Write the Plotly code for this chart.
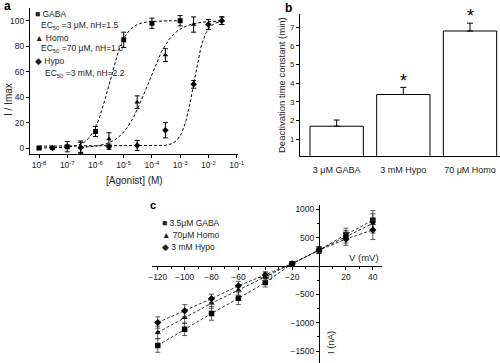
import numpy as np
import plotly.graph_objects as go

# ---------------- Panel a data ----------------
gaba_conc = [1e-8, 1e-7, 1e-6, 1e-5, 1e-4, 1e-3]
gaba_resp = [0, 1, 13, 85, 98, 100]
gaba_err = [1, 4, 4, 6, 4, 4]

homo_conc = [3e-7, 3e-6, 3e-5, 3e-4, 3e-3, 3e-2]
homo_resp = [0.5, 7, 36, 73, 97, 100]
homo_err = [5, 5, 5, 5, 6, 3]

hypo_conc = [3e-8, 3e-7, 3e-6, 3e-5, 3e-4, 3e-3, 1e-2, 3e-2]
hypo_resp = [0, 0.5, 1, 2, 14, 50, 97, 100]
hypo_err = [1, 4, 2, 4, 6, 3, 4, 3]

# fitted Hill parameters (from legend)
ec50 = {"GABA": 3e-6, "Homo": 7e-5, "Hypo": 3e-3}
nh = {"GABA": 1.5, "Homo": 1.0, "Hypo": 2.2}
bottom = {"GABA": 0, "Homo": 0, "Hypo": 1.5}
curve_span = {"GABA": (-8, -3), "Homo": (-6.52, -1.52), "Hypo": (-8, -1.52)}

x_tick_exps = [-8, -7, -6, -5, -4, -3, -2, -1]
y_ticks_a = [0, 20, 40, 60, 80, 100]

# ---------------- Panel b data ----------------
b_cats = ["3 μM GABA", "3 mM Hypo", "70 μM Homo"]
b_vals = [1.7, 3.4, 6.8]
b_err = [0.33, 0.38, 0.42]
b_sig = [False, True, True]

# ---------------- Panel c data ----------------
volt = [-120, -100, -80, -60, -40, -20, 0, 20, 40]
i_gaba = [-1400, -1115, -835, -570, -290, 40, 280, 555, 805]
i_homo = [-1170, -910, -655, -425, -190, 40, 280, 515, 750]
i_hypo = [-995, -790, -575, -350, -160, 40, 280, 475, 635]
e_gaba = [120, 110, 120, 110, 80, 30, 60, 110, 170]
e_homo = [110, 100, 90, 90, 70, 30, 60, 110, 170]
e_hypo = [100, 110, 80, 80, 60, 30, 60, 110, 170]
c_x_ticks = [-120, -100, -80, -60, -40, -20, 20, 40]
c_y_ticks = [-1500, -1000, -500, 500, 1000]

W, H = 500, 363
def px(x):
    return x / W
def py(y):
    return 1 - y / H

FONT = "Liberation Sans, Arial, sans-serif"
TXT = "#222"

fig = go.Figure()

# ---- Panel a ----
def hill(name, xs):
    b = bottom[name]
    return b + (100 - b) / (1 + (ec50[name] / xs) ** nh[name])

for name, conc, resp, err, sym in [
    ("GABA", gaba_conc, gaba_resp, gaba_err, "square"),
    ("Homo", homo_conc, homo_resp, homo_err, "triangle-up"),
    ("Hypo", hypo_conc, hypo_resp, hypo_err, "diamond"),
]:
    lo, hi = curve_span[name]
    xs = np.logspace(lo, hi, 200)
    fig.add_trace(go.Scatter(x=xs, y=hill(name, xs), mode="lines",
                             line=dict(color="black", width=1, dash="3px,2px"),
                             xaxis="x", yaxis="y", showlegend=False, hoverinfo="skip"))
    fig.add_trace(go.Scatter(x=conc, y=resp, mode="markers",
                             marker=dict(symbol=sym, size=5, color="black"),
                             error_y=dict(type="data", array=err, color="black",
                                          thickness=1, width=2.5),
                             xaxis="x", yaxis="y", showlegend=False))

# ---- Panel b ----
fig.add_trace(go.Bar(x=b_cats, y=b_vals, width=0.8,
                     marker=dict(color="white", line=dict(color="black", width=1)),
                     error_y=dict(type="data", symmetric=False, array=b_err,
                                  arrayminus=[0] * len(b_err), color="black",
                                  thickness=1, width=3),
                     xaxis="x2", yaxis="y2", showlegend=False))

# ---- Panel c ----
for vals, errs, sym in [(i_gaba, e_gaba, "square"),
                        (i_homo, e_homo, "triangle-up"),
                        (i_hypo, e_hypo, "diamond")]:
    fig.add_trace(go.Scatter(x=volt, y=vals, mode="lines+markers",
                             line=dict(color="black", width=0.8, dash="3px,2px"),
                             marker=dict(symbol=sym, size=5.5, color="black"),
                             error_y=dict(type="data", array=errs, color="#333",
                                          thickness=0.8, width=2.5),
                             xaxis="x3", yaxis="y3", showlegend=False))

tickfont = dict(family=FONT, size=8.5, color=TXT)
common = dict(showline=True, linecolor="black", linewidth=1, tickcolor="black",
              showgrid=False, zeroline=False, automargin=False)

fig.update_layout(
    template="none",
    width=W, height=H,
    margin=dict(l=0, r=0, t=0, b=0),
    paper_bgcolor="white", plot_bgcolor="white",
    font=dict(family=FONT, color=TXT),
    xaxis=dict(type="log", domain=[px(30), px(238)], range=[-8.32, -0.95],
               tickvals=[10.0 ** e for e in x_tick_exps],
               ticktext=["10<sup>%d</sup>" % e for e in x_tick_exps],
               ticks="outside", ticklen=3, tickfont=tickfont, anchor="y", **common),
    yaxis=dict(domain=[py(154), py(8)], range=[-4.7, 110],
               tickvals=y_ticks_a, ticks="outside", ticklen=3,
               tickfont=tickfont, anchor="x", **common),
    xaxis2=dict(domain=[px(300), 1.0], range=[-0.55, 2.45], type="category",
                ticks="", tickfont=dict(family=FONT, size=9, color=TXT),
                ticklabelstandoff=5, anchor="y2", **common),
    yaxis2=dict(domain=[py(155.7), py(14.2)], range=[0.12, 7.7],
                tickvals=[1, 2, 3, 4, 5, 6, 7], ticks="outside", ticklen=3,
                tickfont=dict(family=FONT, size=8, color=TXT), anchor="x2", **common),
    xaxis3=dict(domain=[px(151.7), px(381.7)], range=[-124.5, 46.6],
                anchor="free", position=py(266),
                tickvals=c_x_ticks, ticks="outside", ticklen=3, tickfont=tickfont,
                minor=dict(dtick=10, tick0=0, ticklen=2, ticks="outside", tickcolor="black"),
                **common),
    yaxis3=dict(domain=[0, py(205)], range=[-1708, 1074],
                anchor="free", position=px(319),
                tickvals=c_y_ticks, ticks="outside", ticklen=3, tickfont=tickfont,
                minor=dict(dtick=250, tick0=0, ticklen=2, ticks="outside", tickcolor="black"),
                **common),
)

ann = []
def A(x, y, text, size=9, xanchor="left", yanchor="middle", textangle=0, bold=False, color=TXT):
    if bold:
        text = "<b>%s</b>" % text
    ann.append(dict(x=px(x), y=py(y), xref="paper", yref="paper", text=text,
                    showarrow=False, xanchor=xanchor, yanchor=yanchor,
                    textangle=textangle, font=dict(family=FONT, size=size, color=color)))

# panel labels
A(2, 6, "a", size=12, bold=True, color="black")
A(283, 8, "b", size=12, bold=True, color="black")
A(148, 205, "c", size=11, bold=True, color="black")

# panel a legend
A(33, 14, "■ GABA", size=8.5)
A(39, 25, "EC<sub>50</sub> =3 μM, nH=1.5", size=8.5)
A(33, 38, "▲ Homo", size=8.5)
A(39, 48, "EC<sub>50</sub> =70 μM, nH=1.0", size=8.5)
A(33, 61, "◆ Hypo", size=8.5)
A(43, 73, "EC<sub>50</sub> =3 mM, nH=2.2", size=8.5)

# panel a axis titles
A(134, 180, "[Agonist] (M)", size=10, xanchor="center")
A(8, 100, "I / Imax", size=10, xanchor="center", textangle=-90)

# panel b
A(281, 85, "Deactivation time constant (min)", size=9.5, xanchor="center", textangle=-90)
for i, s in enumerate(b_sig):
    if s:
        ann.append(dict(x=b_cats[i], y=b_vals[i] + b_err[i] + 0.15, xref="x2", yref="y2",
                        text="*", showarrow=False, yanchor="bottom", yshift=-8,
                        font=dict(family=FONT, size=18, color="black")))

# panel c legend & labels
A(160, 223, "■ 3.5μM GABA", size=8.5)
A(160, 235, "▲ 70μM Homo", size=8.5)
A(160, 247, "◆ 3 mM Hypo", size=8.5)
A(381, 257, "V (mV)", size=9.5, xanchor="right")
A(330, 343, "I (nA)", size=9.5, xanchor="center", textangle=-90)

fig.update_layout(annotations=ann)
fig.write_html("out.html", config={"displayModeBar": False},
               post_script="document.body.style.margin='0';document.body.style.overflow='hidden';")
